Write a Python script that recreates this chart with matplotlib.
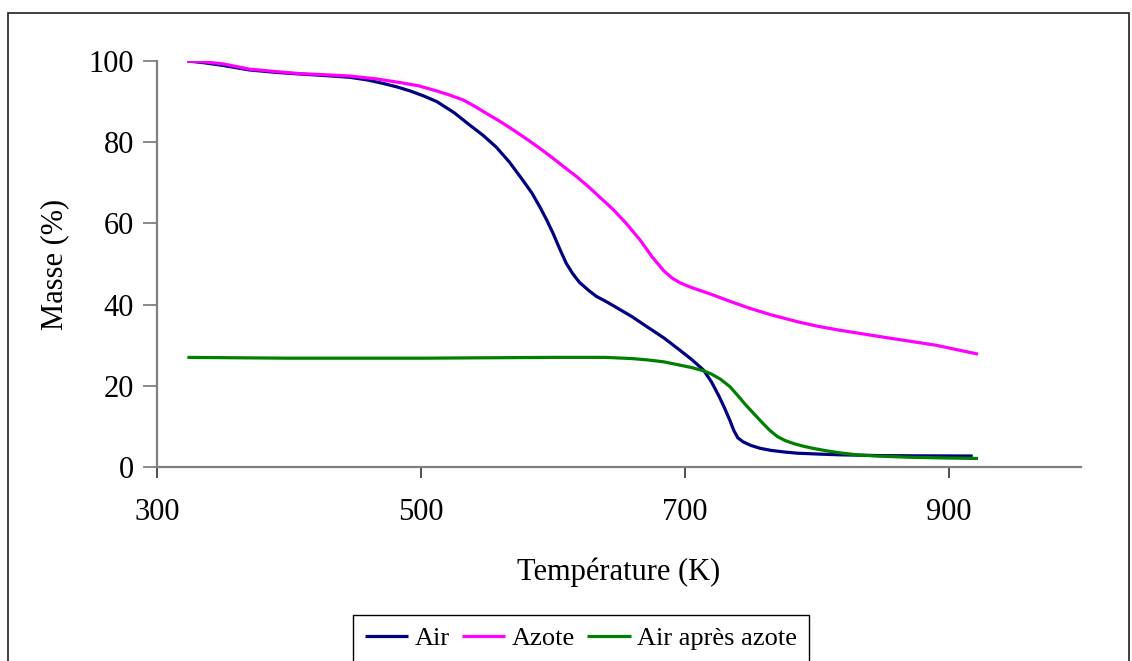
import matplotlib.pyplot as plt
from matplotlib.patches import Rectangle

plt.rcParams['font.family'] = ['Liberation Serif', 'DejaVu Serif']

# Air
air_T = [323, 335, 350, 370, 390, 408, 428, 446, 460, 471, 482, 492, 502, 512, 525, 537, 547, 557,
         567, 577, 584, 590, 595, 600, 605, 610, 615, 620, 627, 633, 640, 648, 660, 671, 684, 696,
         705, 714, 720, 726, 730, 734, 737, 740, 744, 750, 757, 765, 775, 785, 800, 817, 850, 880, 918]
air_m = [100, 99.6, 98.9, 97.8, 97.2, 96.8, 96.4, 96.0, 95.3, 94.5, 93.6, 92.6, 91.4, 90.0, 87.3,
         84.2, 81.7, 78.8, 75.1, 70.7, 67.5, 64.1, 61.0, 57.6, 53.8, 50.2, 47.6, 45.5, 43.5, 42.0,
         40.8, 39.3, 37.0, 34.6, 31.8, 28.8, 26.5, 23.9, 21.0, 17.3, 14.5, 11.5, 9.0, 7.2, 6.2,
         5.3, 4.6, 4.1, 3.7, 3.4, 3.2, 3.0, 2.8, 2.75, 2.7]

# Azote
azote_T = [323, 335, 350, 370, 390, 408, 428, 446, 466, 484, 498, 510, 521, 532, 541, 550, 560,
           570, 580, 590, 599, 608, 618, 627, 636, 646, 656, 666, 675, 684, 690, 696, 705, 714,
           721, 735, 749, 765, 785, 800, 817, 850, 890, 922]
azote_m = [100, 99.8, 99.3, 98.0, 97.4, 96.9, 96.6, 96.3, 95.6, 94.7, 93.9, 92.8, 91.7, 90.4, 88.8,
           87.0, 85.1, 83.0, 80.8, 78.5, 76.3, 74.0, 71.5, 69.0, 66.3, 63.3, 59.8, 55.9, 51.8, 48.3,
           46.6, 45.4, 44.2, 43.2, 42.4, 40.7, 39.1, 37.5, 35.8, 34.7, 33.7, 32.0, 30.0, 27.8]

# Air après azote
apres_T = [323, 360, 400, 450, 500, 550, 600, 640, 660, 671, 684, 696, 705, 714, 720, 727, 734,
           740, 746, 752, 758, 764, 770, 776, 783, 790, 797, 807, 817, 830, 845, 870, 900, 922]
apres_m = [27.0, 26.9, 26.8, 26.8, 26.8, 26.9, 27.0, 27.0, 26.7, 26.4, 25.9, 25.1, 24.5, 23.7,
           22.9, 21.6, 19.8, 17.6, 15.3, 13.2, 11.1, 9.1, 7.5, 6.5, 5.7, 5.1, 4.6, 4.0, 3.5, 3.0,
           2.7, 2.4, 2.2, 2.1]

xticks = [300, 500, 700, 900]
yticks = [0, 20, 40, 60, 80, 100]

fig = plt.figure(figsize=(11.32, 6.61), dpi=100)
ax = fig.add_axes([0.1387, 0.2935, 0.9549 - 0.1387, 0.9077 - 0.2935])

kw = dict(lw=2.3, solid_joinstyle='round', solid_capstyle='butt')
ax.plot(air_T, air_m, color='#000080', label='Air', **kw)
ax.plot(azote_T, azote_m, color='#FF00FF', label='Azote', **kw)
ax.plot(apres_T, apres_m, color='#008000', label='Air après azote', **kw)

ax.set_xlim(300, 1000)
ax.set_ylim(0, 100)
ax.set_xticks(xticks)
ax.set_yticks(yticks)
for s in ['top', 'right']:
    ax.spines[s].set_visible(False)
for s in ['left', 'bottom']:
    ax.spines[s].set_color('#808080')
    ax.spines[s].set_linewidth(1.6)
ax.tick_params(axis='y', direction='out', length=10, width=1.3, color='#808080',
               labelsize=22, pad=6.5)
ax.tick_params(axis='x', direction='out', length=8, width=1.3, color='#404040',
               labelsize=22, pad=14)

ax.set_xlabel('Température (K)', fontsize=22, labelpad=22)
ax.set_ylabel('Masse (%)', fontsize=22, labelpad=14)

fig.legend(loc='upper center', bbox_to_anchor=(581 / 1132, 1 - 615 / 661), ncol=3,
           fontsize=19, frameon=True, fancybox=False, edgecolor='black',
           handlelength=1.65, handletextpad=0.25, columnspacing=0.45,
           borderpad=0.45, borderaxespad=0, framealpha=1)

fig.patches.append(Rectangle((8 / 1132, -0.01), 1121 / 1132, 1 - 13 / 661 + 0.01,
                             transform=fig.transFigure, fill=False, edgecolor='#202020',
                             lw=1.2))

fig.savefig('out.png', dpi=100)
